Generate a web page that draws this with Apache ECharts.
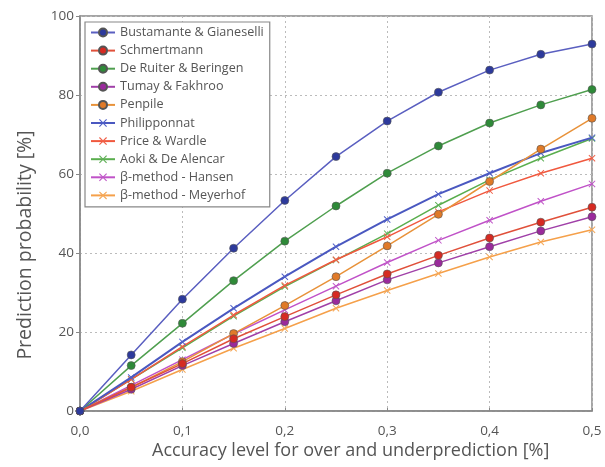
<!DOCTYPE html>
<html>
<head>
<meta charset="utf-8">
<script src="https://cdn.jsdelivr.net/npm/echarts@6/dist/echarts.min.js"></script>
<style>html,body{margin:0;padding:0;background:#fff}#c{width:605px;height:467px}</style>
</head>
<body>
<div id="c"></div>
<script>
var xs = [0, 0.05, 0.1, 0.15, 0.2, 0.25, 0.3, 0.35, 0.4, 0.45, 0.5];
var bustamante = [0, 14.2, 28.3, 41.2, 53.3, 64.4, 73.4, 80.7, 86.3, 90.3, 92.9];
var schmertmann = [0, 6, 12, 18.3, 23.9, 29.4, 34.7, 39.4, 43.8, 47.8, 51.6];
var deRuiter = [0, 11.5, 22.2, 33, 43, 51.9, 60.2, 67.1, 72.9, 77.5, 81.4];
var tumay = [0, 5.5, 11.5, 17.1, 22.6, 27.9, 33.2, 37.5, 41.6, 45.6, 49.2];
var penpile = [0, 6, 12.5, 19.6, 26.7, 34, 41.8, 49.8, 58.1, 66.3, 74.1];
var philipponnat = [0, 8.5, 17.5, 26, 34, 41.6, 48.5, 54.9, 60.2, 65.3, 69.2];
var priceWardle = [0, 8, 16.3, 24.3, 31.8, 38.3, 44.1, 50.4, 55.8, 60.2, 64];
var aoki = [0, 8, 16, 24, 31.5, 38.2, 44.9, 52.1, 58.5, 64, 69];
var hansen = [0, 6.5, 13, 19.5, 25.6, 31.6, 37.6, 43.2, 48.3, 53.1, 57.5];
var meyerhof = [0, 5, 10.5, 15.9, 20.9, 26, 30.5, 34.8, 39, 42.8, 45.9];
var yTicks = [0, 20, 40, 60, 80, 100];
var xTitle = 'Accuracy level for over and underprediction [%]';
var yTitle = 'Prediction probability [%]';

var names = ['Bustamante & Gianeselli', 'Schmertmann', 'De Ruiter & Beringen', 'Tumay & Fakhroo', 'Penpile',
  'Philipponnat', 'Price & Wardle', 'Aoki & De Alencar', 'β-method - Hansen', 'β-method - Meyerhof'];
var values = [bustamante, schmertmann, deRuiter, tumay, penpile, philipponnat, priceWardle, aoki, hansen, meyerhof];
var lineColors = ['#5a5fc0', '#e0503a', '#4f9f4f', '#a040a8', '#e8923a', '#4a58c0', '#f0583e', '#5aae4e', '#c052c8', '#f5a04a'];
var markColors = ['#2d3a9c', '#d62a22', '#2e8a38', '#9a2a9c', '#e07a28', '#5060c8', '#f06048', '#60b058', '#c058c8', '#f5a858'];
var X = 'path://M0,1L1,0L5,4L9,0L10,1L6,5L10,9L9,10L5,6L1,10L0,9L4,5Z';

var series = names.map(function (n, i) {
  var circle = i < 5;
  return {
    name: n,
    type: 'line',
    data: xs.map(function (x, k) { return [x, values[i][k]]; }),
    symbol: circle ? 'circle' : X,
    symbolSize: circle ? 8 : 7,
    showSymbol: true,
    lineStyle: { color: lineColors[i], width: i === 5 ? 2 : 1.5 },
    itemStyle: circle ? { color: markColors[i], borderColor: '#555', borderWidth: 0.6 } : { color: markColors[i] },
    z: 10 - i
  };
});

var chart = echarts.init(document.getElementById('c'));
chart.setOption({
  animation: false,
  textStyle: { fontFamily: 'Open Sans' },
  grid: { left: 80, right: 13, top: 16, bottom: 56, show: true, borderColor: '#888', borderWidth: 1.5 },
  legend: {
    orient: 'vertical', left: 85, top: 22, itemWidth: 24, itemHeight: 10, itemGap: 5.1,
    backgroundColor: '#fff', borderColor: '#888', borderWidth: 1.2, borderRadius: 0,
    padding: [4, 6, 5, 5],
    textStyle: { fontFamily: 'Open Sans', fontSize: 12.6, color: '#555' },
    data: names
  },
  graphic: [
    { type: 'text', left: 'center', top: 442, z: 100, style: { text: xTitle, x: 0, fontSize: 18, fill: '#555', fontFamily: 'Open Sans' }, left: 152 },
    { type: 'text', x: 25, y: 245, rotation: Math.PI / 2, z: 100,
      style: { text: yTitle, fontSize: 19.5, fill: '#555', fontFamily: 'Open Sans', align: 'center', verticalAlign: 'middle' } }
  ],
  xAxis: {
    type: 'value', min: 0, max: 0.5, interval: 0.1,
    axisLine: { show: true, lineStyle: { color: '#888', width: 1.5 } },
    axisTick: { show: true, inside: true, length: 3, lineStyle: { color: '#888' } },
    axisLabel: { fontSize: 13.5, color: '#555', margin: 13, formatter: function (v) { return v.toFixed(1).replace('.', ','); } },
    splitLine: { show: true, lineStyle: { color: '#bbb', type: [2, 3], width: 1 } }
  },
  yAxis: {
    type: 'value', min: 0, max: 100, interval: 20,
    axisLine: { show: true, lineStyle: { color: '#888', width: 1.5 } },
    axisTick: { show: true, inside: false, length: 4, lineStyle: { color: '#888' } },
    axisLabel: { fontSize: 13.5, color: '#555', margin: 6, formatter: function (v) { return yTicks.indexOf(v) >= 0 ? String(v) : ''; } },
    splitLine: { show: true, lineStyle: { color: '#bbb', type: [2, 3], width: 1 } }
  },
  series: series
});
</script>
</body>
</html>
